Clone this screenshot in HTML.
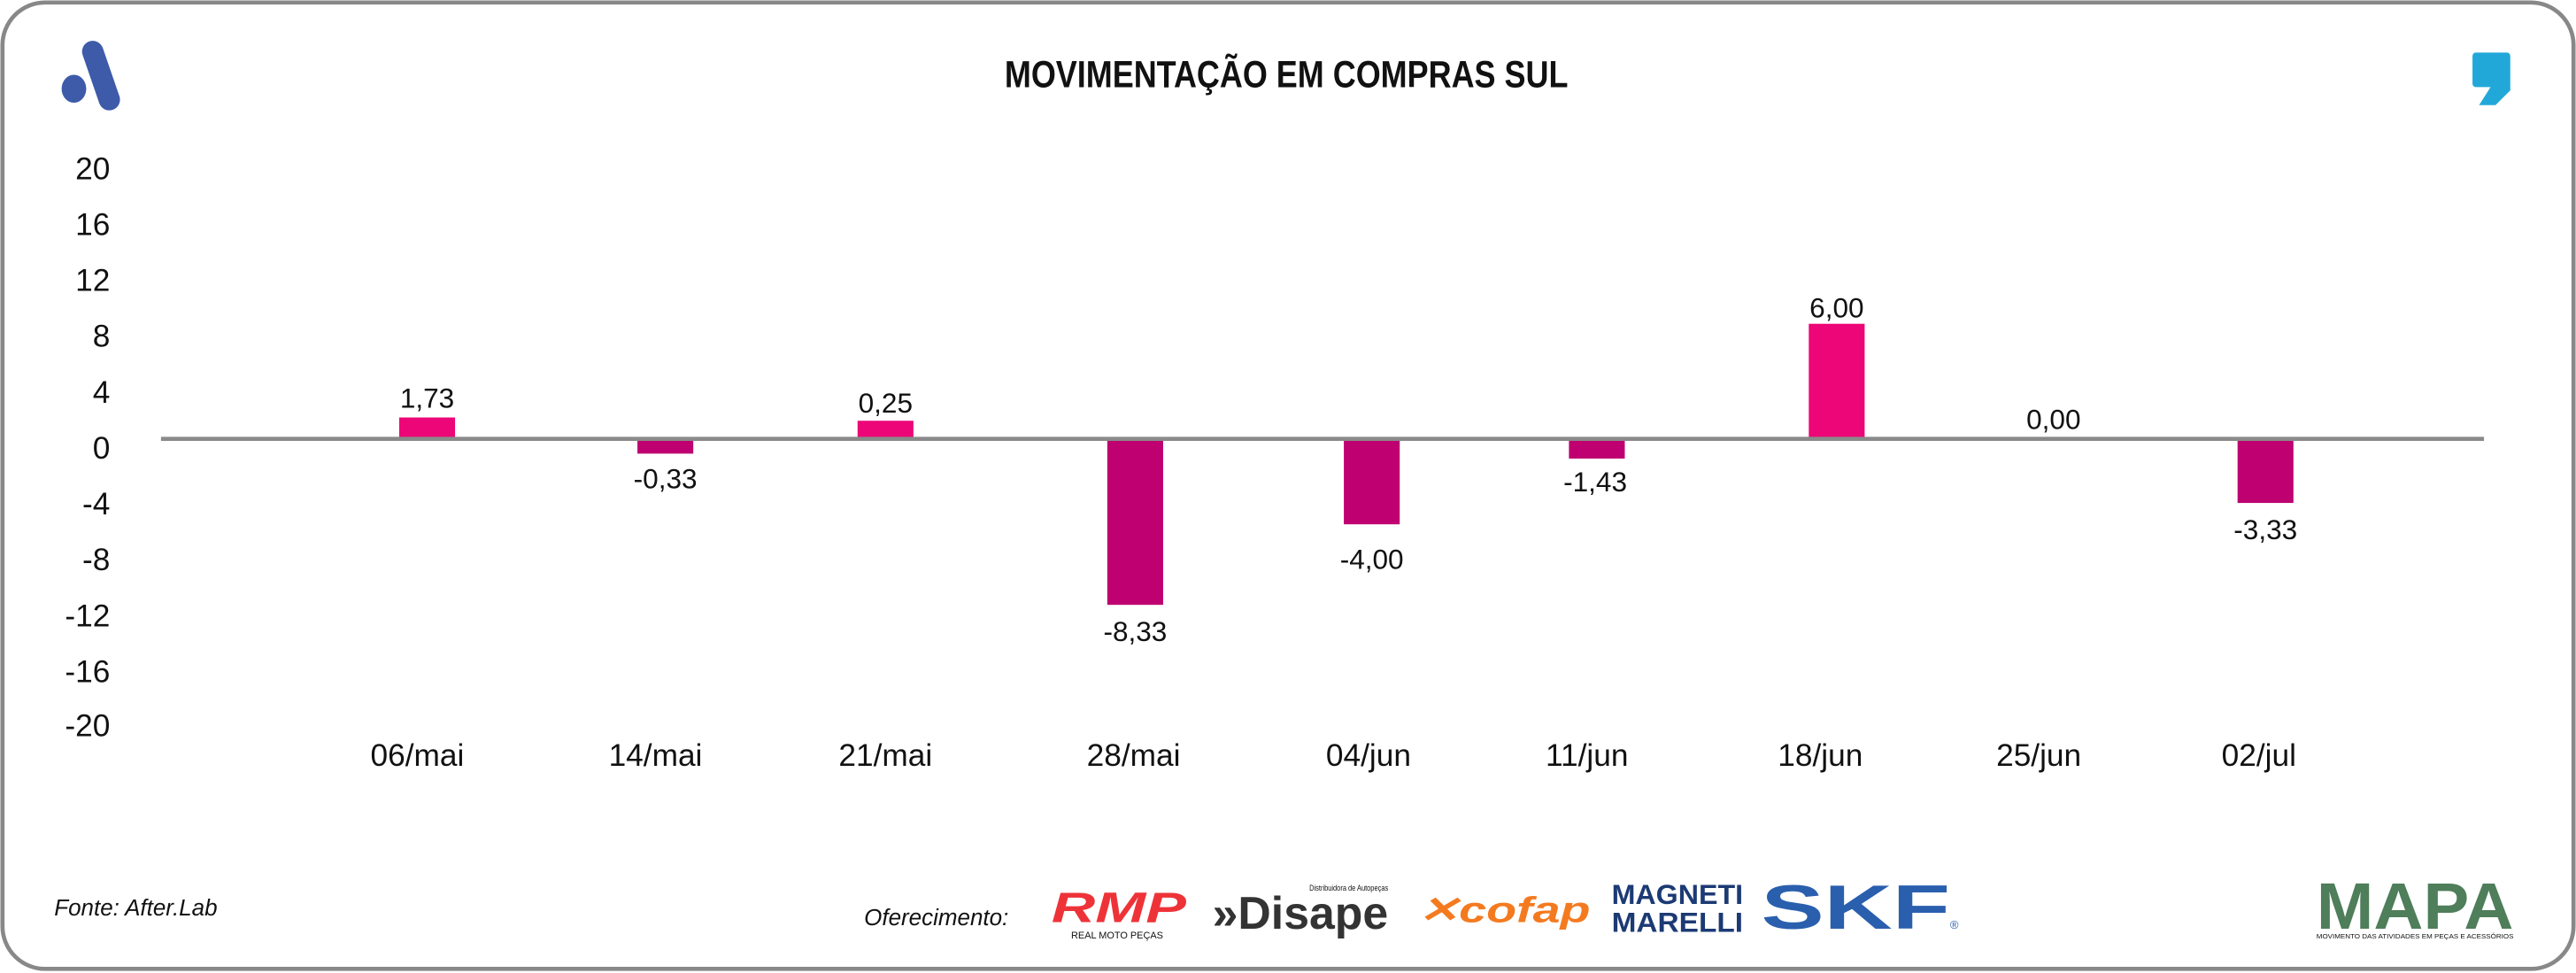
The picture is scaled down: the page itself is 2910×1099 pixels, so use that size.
<!DOCTYPE html>
<html><head><meta charset="utf-8"><style>
html,body{margin:0;padding:0;background:#fff;}
svg{display:block;}
text{font-family:"Liberation Sans Narrow","Liberation Sans",sans-serif;fill:#111;}
</style></head><body>
<svg width="2910" height="1099" viewBox="0 0 1568 592" preserveAspectRatio="none" xmlns="http://www.w3.org/2000/svg">
<rect x="1.5" y="1.5" width="1565" height="588" rx="26" ry="26" fill="#fff" stroke="#888" stroke-width="2.5"/>
<!-- A logo -->
<g fill="#3E5BAA">
<rect x="55" y="24" width="13" height="44" rx="6.5" transform="rotate(-19 61.5 46)"/>
<ellipse cx="45" cy="54" rx="7.5" ry="8.5"/>
</g>
<!-- quote logo -->
<path d="M1507,32 h19 a2,2 0 0 1 2,2 v21 l-9,9 h-10 l7,-11 h-9 a2,2 0 0 1 -2,-2 v-17 a2,2 0 0 1 2,-2z" fill="#22A8D8"/>
<text x="783" y="53" text-anchor="middle" font-size="23" font-weight="bold" textLength="343" lengthAdjust="spacingAndGlyphs">MOVIMENTAÇÃO EM COMPRAS SUL</text>
<!-- y axis labels -->
<g font-size="19" text-anchor="end">
<text x="67" y="109">20</text>
<text x="67" y="143">16</text>
<text x="67" y="177">12</text>
<text x="67" y="211">8</text>
<text x="67" y="245">4</text>
<text x="67" y="279">0</text>
<text x="67" y="313">-4</text>
<text x="67" y="347">-8</text>
<text x="67" y="381">-12</text>
<text x="67" y="415">-16</text>
<text x="67" y="448">-20</text>
</g>
<!-- bars -->
<g>
<rect x="243" y="254" width="34" height="13" fill="#EC0677"/>
<rect x="388" y="268" width="34" height="8" fill="#BE0070"/>
<rect x="522" y="256" width="34" height="10" fill="#EC0677"/>
<rect x="674" y="268" width="34" height="100" fill="#BE0070"/>
<rect x="818" y="268" width="34" height="51" fill="#BE0070"/>
<rect x="955" y="268" width="34" height="11" fill="#BE0070"/>
<rect x="1101" y="197" width="34" height="70" fill="#EC0677"/>
<rect x="1362" y="268" width="34" height="38" fill="#BE0070"/>
</g>
<line x1="98" y1="267" x2="1512" y2="267" stroke="#8a8a8a" stroke-width="2.5"/>
<!-- data labels -->
<g font-size="17" text-anchor="middle">
<text x="260" y="248">1,73</text>
<text x="405" y="297">-0,33</text>
<text x="539" y="251">0,25</text>
<text x="691" y="390">-8,33</text>
<text x="835" y="346">-4,00</text>
<text x="971" y="299">-1,43</text>
<text x="1118" y="193">6,00</text>
<text x="1250" y="261">0,00</text>
<text x="1379" y="328">-3,33</text>
</g>
<!-- x labels -->
<g font-size="19" text-anchor="middle">
<text x="254" y="466">06/mai</text>
<text x="399" y="466">14/mai</text>
<text x="539" y="466">21/mai</text>
<text x="690" y="466">28/mai</text>
<text x="833" y="466">04/jun</text>
<text x="966" y="466">11/jun</text>
<text x="1108" y="466">18/jun</text>
<text x="1241" y="466">25/jun</text>
<text x="1375" y="466">02/jul</text>
</g>
<text x="33" y="557" font-size="14" font-style="italic">Fonte: After.Lab</text>
<text x="526" y="563" font-size="14" font-style="italic">Oferecimento:</text>
<!-- sponsor logos -->
<g>
<text x="640" y="561" font-size="26" font-weight="bold" font-style="italic" style="fill:#EE3338" textLength="82" lengthAdjust="spacingAndGlyphs">RMP</text>
<text x="652" y="571" font-size="6" textLength="56" lengthAdjust="spacingAndGlyphs">REAL MOTO PEÇAS</text>
<text x="738" y="565" font-size="28" font-weight="bold" style="fill:#333" textLength="107" lengthAdjust="spacingAndGlyphs">»Disape</text>
<text x="797" y="542" font-size="5" textLength="48" lengthAdjust="spacingAndGlyphs">Distribuidora de Autopeças</text>
<text x="863" y="561" font-size="22" font-weight="bold" font-style="italic" style="fill:#F47A20" textLength="105" lengthAdjust="spacingAndGlyphs">✕cofap</text>
<text x="981" y="550" font-size="17" font-weight="bold" style="fill:#1C3A74" textLength="80" lengthAdjust="spacingAndGlyphs">MAGNETI</text>
<text x="981" y="567" font-size="17" font-weight="bold" style="fill:#1C3A74" textLength="80" lengthAdjust="spacingAndGlyphs">MARELLI</text>
<text x="1072" y="565" font-size="38" font-weight="bold" style="fill:#2A5FAE" textLength="115" lengthAdjust="spacingAndGlyphs">SKF</text>
<text x="1187" y="565" font-size="7" style="fill:#2A5FAE">®</text>
<text x="1410" y="565" font-size="40" font-weight="bold" style="fill:#4E7E5A" textLength="120" lengthAdjust="spacingAndGlyphs">MAPA</text>
<text x="1410" y="571" font-size="4" textLength="120" lengthAdjust="spacingAndGlyphs">MOVIMENTO DAS ATIVIDADES EM PEÇAS E ACESSÓRIOS</text>
</g>
</svg>
</body></html>
